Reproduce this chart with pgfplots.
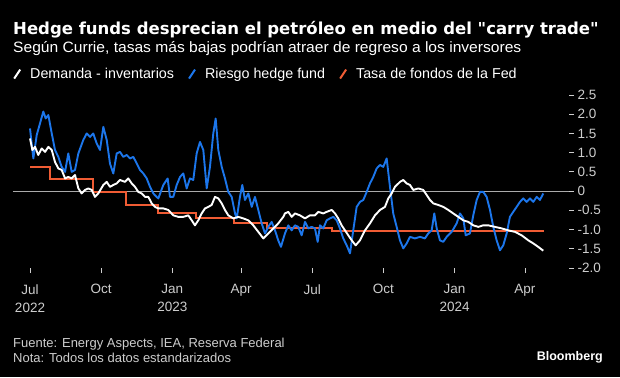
\documentclass[border=0pt]{standalone}
\usepackage{fontspec}
\setmainfont{Liberation Sans}
\newfontfamily\titlefont{DejaVu Sans}
\newfontfamily\subfont[FakeStretch=1.04]{Liberation Sans}
\usepackage{pgfplots}
\pgfplotsset{compat=1.18}
\definecolor{bblue}{RGB}{28,118,235}
\definecolor{borange}{RGB}{240,92,52}
\definecolor{lgray}{RGB}{205,205,205}
\definecolor{zgray}{RGB}{170,170,170}
\begin{document}
\begin{tikzpicture}
\fill[black] (0pt,0pt) rectangle (620pt,-377pt);
\node[anchor=base west, inner sep=0, text=white, font=\titlefont\bfseries\fontsize{16.5}{20}\selectfont] at (13pt,-35pt) {Hedge funds desprecian el petróleo en medio del "carry trade"};
\node[anchor=base west, inner sep=0, text=white, font=\subfont\fontsize{15}{18}\selectfont] at (13pt,-53pt) {Según Currie, tasas más bajas podrían atraer de regreso a los inversores};
\begin{axis}[
  at={(13pt,-268pt)}, anchor=south west,
  scale only axis, width=556pt, height=173pt,
  xmin=-22, xmax=697, ymin=-2, ymax=2.5,
  axis x line*=bottom, axis y line*=right,
  axis line style={draw=none},
  tick align=outside, major tick length=5pt,
  tick style={lgray, line width=0.8pt},
  xtick={0,92,184,273,365,457,549,640},
  xticklabels={{Jul\\2022},{Oct},{Jan\\2023},{Apr},{Jul},{Oct},{Jan\\2024},{Apr}},
  xticklabel style={align=center, text=lgray, font=\fontsize{13.5}{18}\selectfont, anchor=north, yshift=-8pt},
  ytick={-2,-1.5,-1,-0.5,0,0.5,1,1.5,2,2.5},
  yticklabels={-2.0,-1.5,-1.0,-0.5,0,0.5,1.0,1.5,2.0,2.5},
  yticklabel style={text=lgray, font=\fontsize{13.5}{16}\selectfont, anchor=west, xshift=0pt},
  clip=false,
  legend columns=3,
  legend image code/.code={\draw[#1] (0pt,-4.5pt) -- (6pt,4.5pt);},
  legend style={at={(0,1.121)}, anchor=west, draw=none, fill=none, text=white,
    font=\fontsize{14.3}{16}\selectfont, inner sep=0pt,
    /tikz/every odd column/.append style={column sep=7pt},
    /tikz/every even column/.append style={column sep=12pt}},
]
\addlegendimage{white, line width=2pt}
\addlegendentry{Demanda - inventarios}
\addlegendimage{bblue, line width=2pt}
\addlegendentry{Riesgo hedge fund}
\addlegendimage{borange, line width=2pt}
\addlegendentry{Tasa de fondos de la Fed}
\draw[zgray, line width=0.8pt] (axis cs:-22,0) -- (axis cs:697,0);
\addplot[borange, line width=2pt, const plot, forget plot] coordinates {
(0,0.63)(26,0.31)(82,-0.02)(124,-0.36)(166,-0.58)(215,-0.71)(264,-0.82)(306,-0.95)(390,-1.04)(665,-1.04)};
\addplot[bblue, line width=1.9pt, forget plot, line join=round] coordinates {
(0,1.63)(4.3,0.85)(8.7,1.46)(12.9,1.76)(17.2,2.07)(20.3,1.89)(23.7,1.98)(28.1,1.50)(32.3,1.07)(36.6,0.89)(41.0,0.63)(45.3,0.50)(49.5,0.98)(53.9,0.50)(58.2,0.55)(62.5,0.98)(68.9,1.33)(73.3,1.50)(77.6,1.41)(81.8,1.50)(86.2,1.24)(90.5,1.07)(94.8,1.67)(99.2,1.33)(103.4,0.72)(107.7,0.46)(112.1,0.98)(116.4,1.02)(120.6,0.89)(125.0,0.94)(129.3,0.85)(133.6,0.89)(138.0,0.72)(142.2,0.55)(146.5,0.46)(150.9,0.33)(155.2,0.11)(159.4,-0.06)(163.8,-0.15)(165.9,-0.19)(172.4,0.16)(178.0,0.33)(181.0,-0.15)(185.3,-0.15)(189.7,0.16)(194.0,0.37)(198.2,0.46)(202.6,0.07)(206.9,0.33)(211.1,0.29)(215.5,0.98)(219.8,1.28)(224.1,1.07)(228.5,0.07)(232.7,0.63)(237.0,1.50)(240.1,1.89)(243.5,1.07)(247.9,0.63)(252.1,0.33)(256.4,-0.02)(260.8,-0.15)(265.1,-0.58)(267.3,-0.71)(271.5,-0.15)(274.5,0.16)(278.0,-0.23)(282.3,-0.06)(286.7,-0.41)(290.9,-0.15)(295.2,-0.49)(299.6,-0.84)(303.9,-1.10)(308.1,-0.93)(312.5,-0.80)(316.8,-1.02)(321.0,-1.28)(324.5,-1.45)(329.7,-1.10)(334.0,-0.89)(338.4,-1.02)(342.6,-0.89)(346.9,-0.93)(351.3,-1.15)(355.6,-0.80)(359.9,-0.97)(364.2,-0.93)(368.5,-0.97)(372.0,-1.32)(375.0,-0.89)(379.2,-0.97)(383.6,-0.76)(387.9,-0.71)(392.2,-0.67)(396.6,-0.76)(400.8,-0.97)(405.1,-1.23)(409.5,-1.41)(413.8,-1.62)(418.0,-1.02)(422.4,-0.41)(426.7,-0.28)(431.0,-0.23)(435.4,-0.02)(439.6,0.20)(443.9,0.37)(448.3,0.59)(452.6,0.68)(456.8,0.63)(461.2,0.85)(465.5,0.11)(469.7,-0.58)(474.1,-0.93)(478.4,-1.28)(482.7,-1.49)(487.1,-1.36)(491.3,-1.19)(497.8,-1.23)(504.3,-1.19)(510.7,-1.23)(515.0,-1.10)(519.4,-1.02)(522.8,-0.58)(525.9,-0.97)(530.1,-1.28)(534.4,-1.32)(538.8,-1.19)(545.3,-1.06)(551.7,-0.84)(556.0,-0.58)(560.3,-0.71)(563.4,-1.15)(568.9,-1.10)(573.2,-0.63)(577.6,-0.23)(581.9,-0.02)(586.1,-0.02)(590.5,-0.15)(594.8,-0.49)(599.1,-0.93)(603.4,-1.28)(607.7,-1.54)(612.0,-1.41)(616.4,-1.10)(620.6,-0.67)(624.9,-0.54)(629.3,-0.41)(633.6,-0.28)(637.9,-0.19)(642.2,-0.28)(646.5,-0.19)(650.8,-0.28)(655.2,-0.15)(659.4,-0.23)(663.7,-0.06)};
\addplot[white, line width=1.9pt, forget plot, line join=round] coordinates {
(0,1.37)(3.0,1.07)(6.5,1.15)(10.7,0.94)(15.1,1.11)(19.4,1.02)(23.7,1.15)(28.1,1.07)(32.3,0.76)(36.6,0.59)(41.0,0.55)(45.3,0.33)(49.5,0.37)(53.9,0.33)(58.2,0.42)(62.5,0.07)(66.8,-0.06)(71.1,0.03)(75.4,0.07)(79.8,0.03)(84.0,-0.15)(88.3,-0.06)(94.8,0.16)(99.2,0.24)(103.4,0.11)(107.7,0.16)(112.1,0.20)(116.4,0.29)(122.8,0.24)(127.1,0.33)(131.5,0.20)(135.8,0.11)(140.0,-0.02)(144.4,-0.06)(148.7,-0.15)(153.0,-0.15)(157.4,-0.32)(161.6,-0.41)(165.9,-0.45)(172.4,-0.45)(178.8,-0.49)(185.3,-0.63)(191.7,-0.67)(198.2,-0.67)(204.7,-0.63)(209.1,-0.76)(213.3,-0.89)(217.6,-0.76)(222.0,-0.58)(226.3,-0.45)(230.5,-0.41)(234.9,-0.36)(239.2,-0.15)(243.5,-0.19)(247.9,-0.32)(252.1,-0.49)(256.4,-0.63)(262.9,-0.71)(269.3,-0.67)(275.8,-0.71)(282.3,-0.76)(288.7,-0.89)(295.2,-1.06)(301.7,-1.23)(308.1,-1.10)(314.6,-0.97)(321.0,-0.84)(327.5,-0.67)(329.7,-0.58)(334.0,-0.54)(338.4,-0.67)(342.6,-0.58)(349.1,-0.63)(355.6,-0.71)(362.0,-0.63)(368.5,-0.63)(372.8,-0.54)(379.2,-0.58)(383.6,-0.54)(390.1,-0.49)(394.4,-0.58)(398.6,-0.71)(403.0,-0.89)(407.3,-1.02)(411.6,-1.15)(416.0,-1.28)(421.1,-1.41)(426.7,-1.28)(433.2,-1.02)(439.6,-0.84)(446.1,-0.63)(452.6,-0.49)(459.0,-0.41)(463.3,-0.19)(467.7,-0.06)(471.9,0.11)(478.4,0.24)(482.7,0.29)(487.1,0.20)(491.3,0.16)(495.6,0.03)(502.1,0.07)(508.5,0.03)(512.9,-0.10)(517.2,-0.23)(521.5,-0.32)(527.9,-0.36)(534.4,-0.41)(540.9,-0.49)(547.3,-0.58)(553.8,-0.67)(560.3,-0.76)(566.7,-0.80)(573.2,-0.89)(579.7,-0.93)(586.1,-0.89)(592.6,-0.89)(601.2,-0.93)(609.9,-0.97)(618.4,-1.02)(627.1,-1.06)(635.8,-1.15)(644.3,-1.28)(650.8,-1.36)(657.2,-1.45)(663.7,-1.55)};
\end{axis}
\node[anchor=base west, inner sep=0, text=lgray, font=\fontsize{13}{16}\selectfont] at (13pt,-347pt) {Fuente: Energy Aspects, IEA, Reserva Federal};
\node[anchor=base west, inner sep=0, text=lgray, font=\fontsize{13}{16}\selectfont] at (13pt,-362pt) {Nota: Todos los datos estandarizados};
\node[anchor=base east, inner sep=0, text=white, font=\bfseries\fontsize{12.5}{16}\selectfont] at (603pt,-360pt) {Bloomberg};
\end{tikzpicture}
\end{document}
